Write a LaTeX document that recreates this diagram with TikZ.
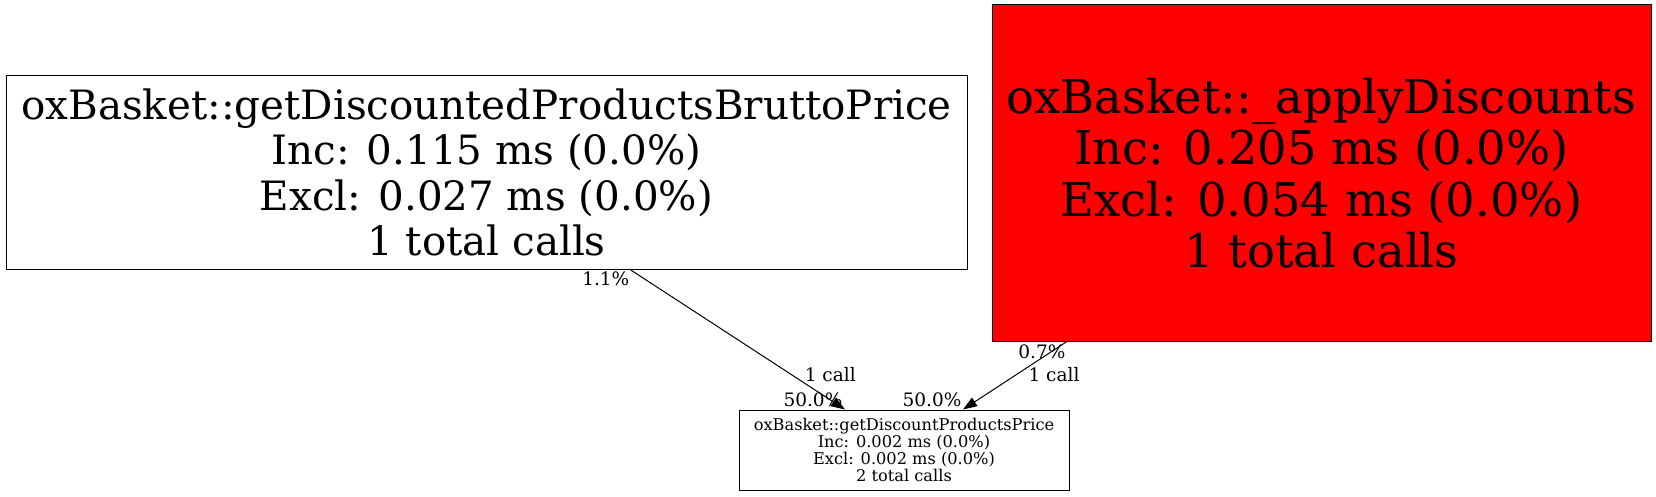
\documentclass[tikz,border=0pt]{standalone}
\usepackage{fontspec}
\setmainfont{DejaVu Serif}
\usetikzlibrary{arrows.meta}

\begin{document}
\begin{tikzpicture}[x=1pt,y=1pt,line width=1pt]
\tikzstyle{call node}=[draw,rectangle,align=center,inner sep=0pt]
\tikzstyle{call edge}=[-{Triangle[length=14pt,width=10pt]}]
\tikzstyle{edge label}=[font=\fontsize{18.5}{20}\selectfont,inner sep=0pt]
\useasboundingbox (0,0) rectangle (1656,496);
\node(brutto)[call node,minimum width=961pt,minimum height=193pt,font=\fontsize{40.4}{45.3}\selectfont] at (486.5,323.5)
{oxBasket::getDiscountedProductsBruttoPrice\\Inc: 0.115 ms (0.0\%)\\Excl: 0.027 ms (0.0\%)\\1 total calls};
\node(apply)[call node,fill=red,minimum width=659pt,minimum height=336pt,font=\fontsize{46.5}{51.5}\selectfont] at (1321.5,323)
{oxBasket::\_applyDiscounts\\Inc: 0.205 ms (0.0\%)\\Excl: 0.054 ms (0.0\%)\\1 total calls};
\node(price)[call node,minimum width=330pt,minimum height=80pt,font=\fontsize{16.2}{17.1}\selectfont] at (904,46)
{oxBasket::getDiscountProductsPrice\\Inc: 0.002 ms (0.0\%)\\Excl: 0.002 ms (0.0\%)\\2 total calls};
% calls
\draw[call edge] ([xshift=143.5pt]brutto.south) -- ([xshift=-59pt]price.north)
node[edge label,pos=0.064,xshift=-38pt]{1.1\%}
node[edge label,pos=0.75,xshift=39pt]{1 call}
node[edge label,pos=0.93,xshift=-17pt]{50.0\%};
\draw[call edge] ([xshift=-254.5pt]apply.south) -- ([xshift=59pt]price.north)
node[edge label,pos=0.145,xshift=-10pt]{0.7\%}
node[edge label,pos=0.49,xshift=38pt]{1 call}
node[edge label,pos=0.855,xshift=-46pt]{50.0\%};
\end{tikzpicture}
\end{document}
